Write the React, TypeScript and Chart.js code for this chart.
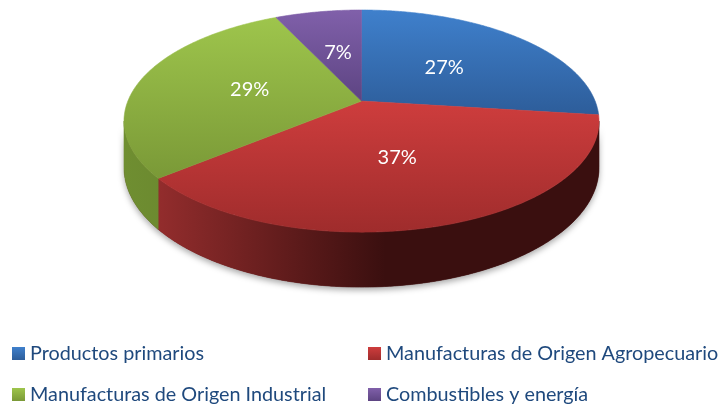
import React, { useEffect, useRef } from "react";
import { Chart, registerables } from "chart.js";

Chart.register(...registerables);

const labels = [
  "Productos primarios",
  "Manufacturas de Origen Agropecuario",
  "Manufacturas de Origen Industrial",
  "Combustibles y energía",
];
const values = [27, 37, 29, 7];

const topLight = ["#3f80cc", "#ce3d3d", "#9ec54c", "#8060aa"];
const topDark = ["#2d5d9a", "#9f2c2c", "#7a9937", "#5d4482"];
const sideLight = ["#2a5690", "#a03131", "#6f8e31", "#5a4280"];
const sideDark = ["#1c3a62", "#3a0f0f", "#5a7427", "#3c2b56"];

const K = 0.18; // perspective strength
const B_RATIO = 0.46; // vertical squash of the top face
const D_RATIO = 0.193; // thickness of the pie

function makeProj(cx: number, cy: number, A: number, B: number) {
  return (phi: number, r: number, drop: number) => {
    const c = Math.cos(phi);
    const s = Math.sin(phi);
    const f = 1 / (1 + K * r * c);
    return [cx + A * r * s * f, cy - B * r * c * f + drop * f];
  };
}

const pie3d = {
  id: "pie3d",
  beforeDatasetsDraw(chart: any) {
    const ctx: CanvasRenderingContext2D = chart.ctx;
    const area = chart.chartArea;
    const meta = chart.getDatasetMeta(0);
    const cx = (area.left + area.right) / 2;
    const A = (area.width / 2) * Math.sqrt(1 - K * K);
    const B = A * B_RATIO;
    const D = A * D_RATIO;
    const cy = area.top + B / (1 + K);
    const proj = makeProj(cx, cy, A, B);
    const visLo = Math.acos(-K);
    const visHi = 2 * Math.PI - visLo;
    const step = Math.PI / 360;

    const slices = meta.data.map((el: any, i: number) => ({
      i,
      a0: el.startAngle + Math.PI / 2,
      a1: el.endAngle + Math.PI / 2,
    }));

    const wallPath = (lo: number, hi: number) => {
      ctx.beginPath();
      let p = proj(lo, 1, 0);
      ctx.moveTo(p[0], p[1]);
      for (let a = lo; a < hi; a += step) {
        p = proj(a, 1, 0);
        ctx.lineTo(p[0], p[1]);
      }
      p = proj(hi, 1, 0);
      ctx.lineTo(p[0], p[1]);
      for (let a = hi; a > lo; a -= step) {
        p = proj(a, 1, D);
        ctx.lineTo(p[0], p[1]);
      }
      p = proj(lo, 1, D);
      ctx.lineTo(p[0], p[1]);
      ctx.closePath();
    };

    ctx.save();
    ctx.shadowColor = "rgba(0,0,0,0.35)";
    ctx.shadowBlur = 6;
    ctx.shadowOffsetY = 3;
    wallPath(visLo, visHi);
    ctx.fillStyle = "#5a1818";
    ctx.fill();
    ctx.restore();

    const xL = cx - area.width / 2;
    const xR = cx + area.width / 2;
    slices.forEach((sl: any) => {
      const lo = Math.max(sl.a0, visLo);
      const hi = Math.min(sl.a1, visHi);
      if (hi <= lo) return;
      const g = ctx.createLinearGradient(xL, 0, xR, 0);
      g.addColorStop(0, sideLight[sl.i]);
      g.addColorStop(0.55, sideDark[sl.i]);
      g.addColorStop(1, sideDark[sl.i]);
      wallPath(lo, hi);
      ctx.fillStyle = g;
      ctx.fill();
      ctx.strokeStyle = g;
      ctx.lineWidth = 0.6;
      ctx.stroke();
    });

    slices.forEach((sl: any) => {
      const pts: number[][] = [];
      for (let a = sl.a0; a < sl.a1; a += step) pts.push(proj(a, 1, 0));
      pts.push(proj(sl.a1, 1, 0));
      let minY = cy;
      let maxY = cy;
      pts.forEach((p) => {
        minY = Math.min(minY, p[1]);
        maxY = Math.max(maxY, p[1]);
      });
      const g = ctx.createLinearGradient(0, minY, 0, maxY);
      g.addColorStop(0, topLight[sl.i]);
      g.addColorStop(1, topDark[sl.i]);
      ctx.beginPath();
      ctx.moveTo(cx, cy);
      pts.forEach((p) => ctx.lineTo(p[0], p[1]));
      ctx.closePath();
      ctx.fillStyle = g;
      ctx.fill();
      ctx.strokeStyle = g;
      ctx.lineWidth = 0.6;
      ctx.stroke();
    });

    const total = values.reduce((s, v) => s + v, 0);
    ctx.fillStyle = "#ffffff";
    ctx.font = "20px Lato";
    ctx.textAlign = "center";
    ctx.textBaseline = "middle";
    slices.forEach((sl: any) => {
      const mid = (sl.a0 + sl.a1) / 2;
      const p = proj(mid, 0.5, 0);
      ctx.fillText(Math.round((values[sl.i] / total) * 100) + "%", p[0], p[1]);
    });
    return false;
  },
  afterDraw(chart: any) {
    const ctx: CanvasRenderingContext2D = chart.ctx;
    const colX = [12, 368];
    const rowY = [347, 388];
    const size = 13;
    ctx.save();
    ctx.font = "19.8px Lato";
    ctx.textAlign = "left";
    ctx.textBaseline = "alphabetic";
    chart.data.labels.forEach((lab: string, i: number) => {
      const x = colX[i % 2];
      const y = rowY[Math.floor(i / 2)];
      const g = ctx.createLinearGradient(0, y, 0, y + size);
      g.addColorStop(0, topLight[i]);
      g.addColorStop(1, topDark[i]);
      ctx.fillStyle = g;
      ctx.fillRect(x, y, size, size);
      ctx.fillStyle = "#1f497d";
      ctx.fillText(lab, x + 18, y + 12.5);
    });
    ctx.restore();
  },
};

export default function App() {
  const ref = useRef<HTMLCanvasElement>(null);
  useEffect(() => {
    if (!ref.current) return;
    const chart = new Chart(ref.current, {
      type: "pie",
      data: {
        labels,
        datasets: [{ data: values, backgroundColor: topLight, borderWidth: 0 }],
      },
      options: {
        responsive: false,
        animation: false,
        layout: { padding: { left: 124, right: 121, top: 10, bottom: 117 } },
        plugins: { legend: { display: false }, tooltip: { enabled: false } },
      },
      plugins: [pie3d],
    });
    return () => chart.destroy();
  }, []);
  return (
    <div style={{ position: "absolute", left: 0, top: 0, width: 720, height: 404, background: "#fff" }}>
      <canvas ref={ref} width={720} height={404} />
    </div>
  );
}
